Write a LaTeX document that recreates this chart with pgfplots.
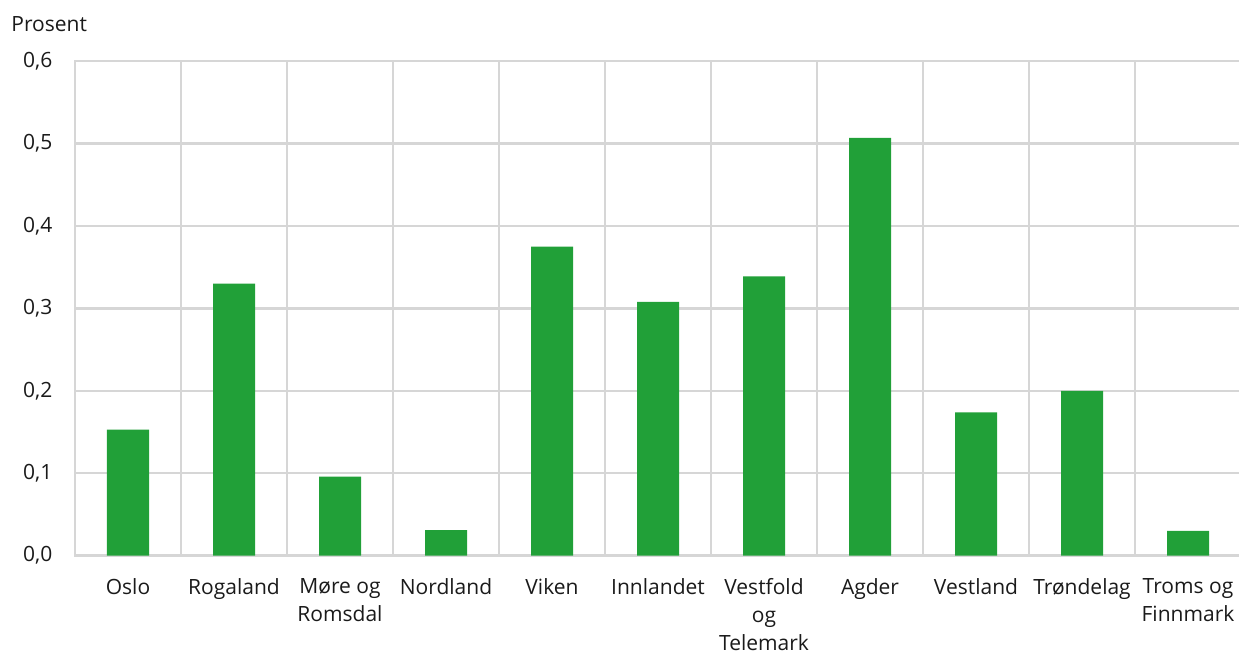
\documentclass[border=0pt]{standalone}
\usepackage{fontspec}
\setmainfont{Open Sans}
\usepackage{pgfplots}
\pgfplotsset{compat=1.18}
\definecolor{bargreen}{RGB}{33,160,56}
\definecolor{gridgray}{RGB}{214,214,214}
\definecolor{txt}{RGB}{26,26,26}

\begin{document}
\fontsize{10.5}{14}\selectfont
\begin{tikzpicture}
\begin{axis}[
  scale only axis,
  width=583pt, height=247.25pt,
  xmin=-0.5, xmax=10.5, ymin=0, ymax=0.6,
  axis line style={draw=gridgray, line width=1.2pt},
  major tick length=0pt, minor tick length=0pt,
  xtick={0,...,10},
  xticklabels={Oslo, Rogaland, {Møre og\\Romsdal}, Nordland, Viken, Innlandet,
               {Vestfold\\og\\Telemark}, Agder, Vestland, Trøndelag, {Troms og\\Finnmark}},
  minor xtick={0.5,1.5,2.5,3.5,4.5,5.5,6.5,7.5,8.5,9.5},
  xminorgrids=true,
  ytick={0,0.1,0.2,0.3,0.4,0.5,0.6},
  ymajorgrids=true,
  grid style={draw=gridgray, line width=1.2pt},
  minor grid style={draw=gridgray, line width=1.2pt},
  tick label style={font=\fontsize{10.5}{14}\selectfont, text=txt},
  xticklabel style={align=center, anchor=north, yshift=-7.6pt},
  yticklabel style={anchor=east, xshift=-7.6pt,
    /pgf/number format/.cd, fixed, fixed zerofill, precision=1, use comma, assume math mode=true},
]
\addplot[ybar, bar width=21pt, fill=bargreen, draw=none] coordinates {
  (0,0.153) (1,0.330) (2,0.096) (3,0.031) (4,0.375) (5,0.308)
  (6,0.339) (7,0.507) (8,0.174) (9,0.200) (10,0.030)
};
\end{axis}
\node[anchor=base west, inner sep=0, text=txt] at ([shift={(-32pt,14.6pt)}]current axis.north west) {Prosent};
\pgfresetboundingbox
\path[use as bounding box] ([shift={(-37.5pt,-49.65pt)}]current axis.south west) rectangle ([shift={(-1pt,30.6pt)}]current axis.north east);
\end{tikzpicture}
\end{document}
